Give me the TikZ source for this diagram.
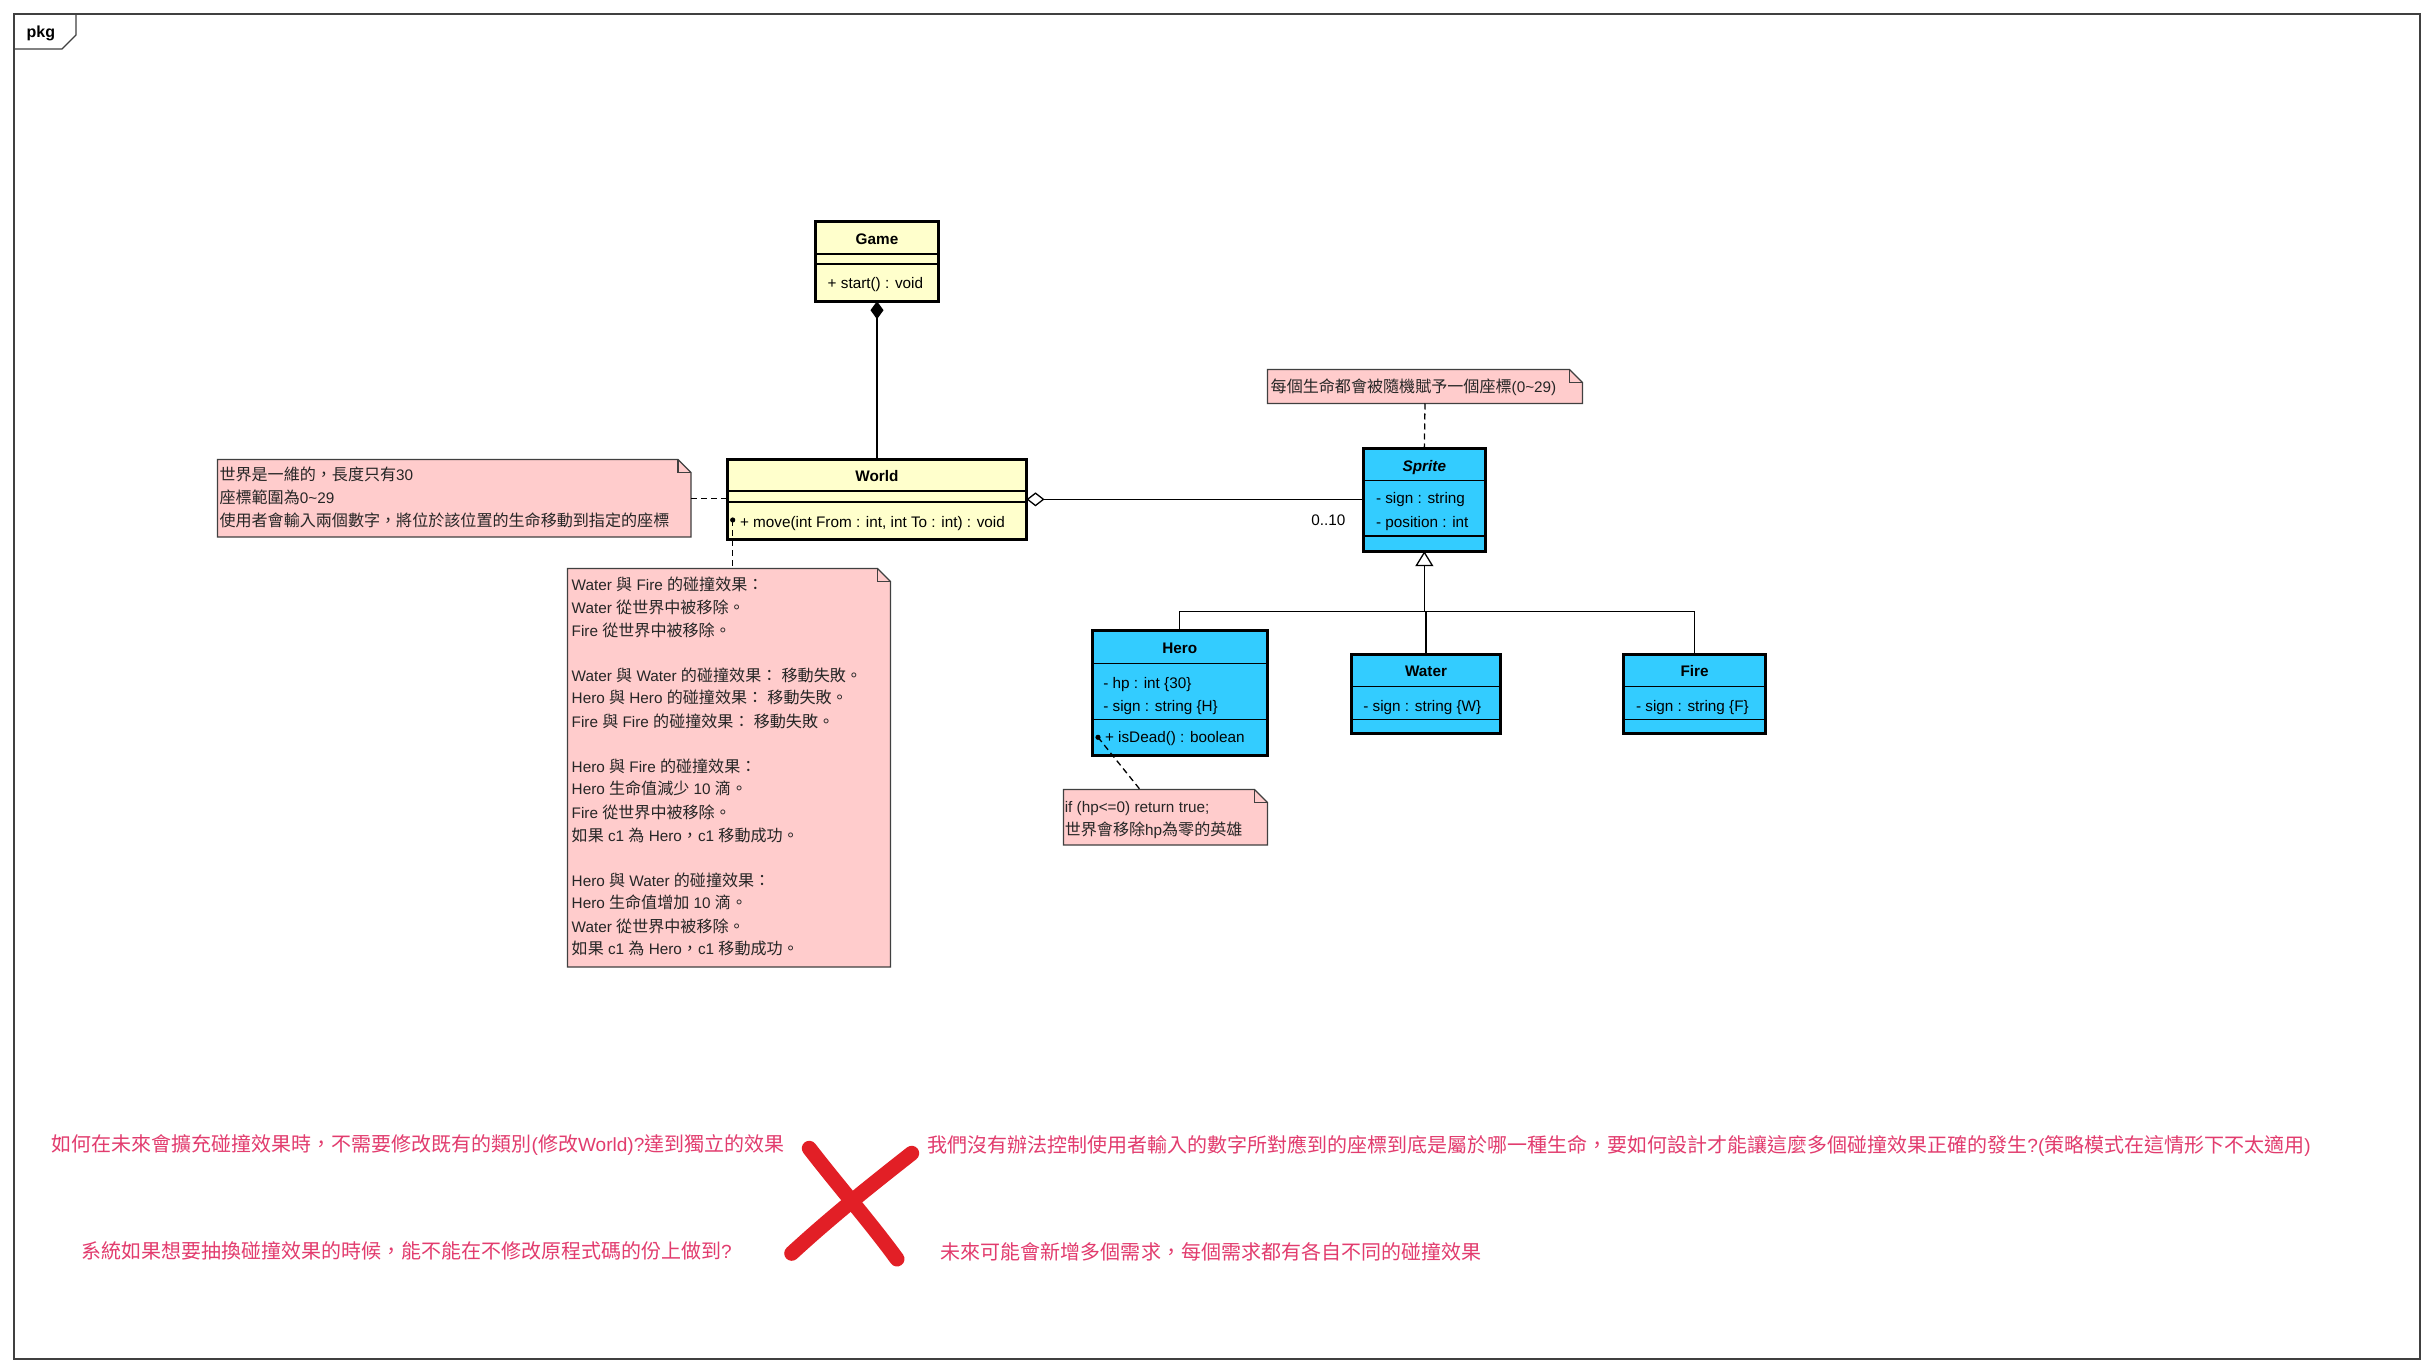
\documentclass[tikz,border=0pt]{standalone}
\usepackage{fontspec}
\setmainfont{Liberation Sans}
\newfontfamily\cjk{Noto Sans CJK TC}[Scale=1.05]
\newfontfamily\lat{Liberation Sans}
\usetikzlibrary{arrows.meta}
% automatic font switching between Latin and CJK characters
\XeTeXinterchartokenstate=1
\newXeTeXintercharclass\CJKcls
\newcount\cjkc
\cjkc="3000
\loop
  \XeTeXcharclass\cjkc=\CJKcls
  \ifnum\cjkc<"9FFF \advance\cjkc by 1
\repeat
\cjkc="FF00
\loop
  \XeTeXcharclass\cjkc=\CJKcls
  \ifnum\cjkc<"FFEF \advance\cjkc by 1
\repeat
\XeTeXinterchartoks 0 \CJKcls = {\cjk}
\XeTeXinterchartoks 4095 \CJKcls = {\cjk}
\XeTeXinterchartoks \CJKcls 0 = {\lat}
\XeTeXinterchartoks \CJKcls 4095 = {\lat}
\definecolor{yel}{HTML}{FFFFCC}
\definecolor{cya}{HTML}{33CCFF}
\definecolor{notepink}{HTML}{FFCCCC}
\definecolor{qred}{HTML}{E23C6E}
\definecolor{xred}{HTML}{E21F26}
\newcommand\drawnote[1]{%
  \draw[notebox] (#1.north west) -- ([xshift=-13pt]#1.north east) -- ([yshift=-13pt]#1.north east) -- (#1.south east) -- (#1.south west) -- cycle;
  \draw[notefold] ([xshift=-13pt]#1.north east) -- ([xshift=-13pt,yshift=-13pt]#1.north east) -- ([yshift=-13pt]#1.north east);
}
\newcommand\compart[2]{\draw[divl] (#1.west |- 0,#2) -- (#1.east |- 0,#2);}
\begin{document}
\begin{tikzpicture}[x=1pt,y=-1pt,
  every node/.style={inner sep=0pt,outer sep=0pt},
  txt/.style={font=\fontsize{15.3}{18}\selectfont,anchor=base west,text=black},
  ntxt/.style={font=\fontsize{15.3}{18}\selectfont,anchor=base west,text=black!85},
  nm/.style={font=\fontsize{15.3}{18}\selectfont\bfseries,anchor=base,text=black},
  clsbox/.style={draw=black,line width=3pt},
  divl/.style={line width=1.2pt},
  conn/.style={line width=1.3pt},
  ndash/.style={line width=1.3pt,dash pattern=on 6pt off 4pt},
  notebox/.style={draw=black!75,fill=notepink,line width=1.3pt},
  notefold/.style={draw=black!75,line width=1.3pt},
  bigq/.style={font=\fontsize{19.05}{24}\selectfont\cjk,text=qred,anchor=base},
  xstroke/.style={draw=xred,line width=15pt,line cap=round}]

\useasboundingbox (0,0) rectangle (2434,1372);
\fill[white] (0,0) rectangle (2434,1372);

% package frame
\draw[line width=1.3pt,draw=black!75] (14,14) rectangle (2420,1359);
\draw[line width=1.3pt,draw=black!75] (76,14) -- (76,35) -- (62,49) -- (14,49);
\node[font=\fontsize{16}{18}\selectfont\bfseries,anchor=base west] (pkg) at (26.7,37.7) {pkg};

% ---------- classes ----------
\node[clsbox,fill=yel,minimum width=123pt,minimum height=79.7pt] (game) at (877,261.35) {};
\compart{game}{254}\compart{game}{264}
\node[nm] (gamen) at (877,244.8) {Game};
\node[txt] (gameo) at (827.7,288.8) {+ start() : void};

\node[clsbox,fill=yel,minimum width=299pt,minimum height=79.7pt] (world) at (877,499.35) {};
\compart{world}{491}\compart{world}{502}
\node[nm] (worldn) at (877,481.5) {World};
\node[txt] (worldo) at (740,527.2) {+ move(int From : int, int To : int) : void};

\node[clsbox,fill=cya,minimum width=121.7pt,minimum height=102.4pt] (sprite) at (1424.35,500) {};
\compart{sprite}{480.7}\compart{sprite}{536}
\node[nm,font=\fontsize{15.3}{18}\selectfont\bfseries\itshape] (spriten) at (1424.35,471.5) {Sprite};
\node[txt] (spritea) at (1376,503.8) {- sign : string};
\node[txt] (spriteb) at (1376,527.2) {- position : int};

\node[clsbox,fill=cya,minimum width=175pt,minimum height=125pt] (hero) at (1179.7,693.3) {};
\compart{hero}{663.3}\compart{hero}{719.3}
\node[nm] (heron) at (1179.7,653.8) {Hero};
\node[txt] (heroa) at (1103.3,688.8) {- hp : int \{30\}};
\node[txt] (herob) at (1103.3,711.5) {- sign : string \{H\}};
\node[txt] (heroo) at (1105,742.8) {+ isDead() : boolean};

\node[clsbox,fill=cya,minimum width=149pt,minimum height=79.6pt] (water) at (1426,694) {};
\compart{water}{686.7}\compart{water}{719.3}
\node[nm] (watern) at (1426,676.5) {Water};
\node[txt] (watera) at (1363.3,711.5) {- sign : string \{W\}};

\node[clsbox,fill=cya,minimum width=142.3pt,minimum height=79.6pt] (fire) at (1694.65,694) {};
\compart{fire}{686.7}\compart{fire}{719.3}
\node[nm] (firen) at (1694.65,676.5) {Fire};
\node[txt] (firea) at (1636,711.5) {- sign : string \{F\}};

% ---------- notes ----------
\node[minimum width=473.5pt,minimum height=77.5pt] (nA) at (454.25,498.25) {};
\drawnote{nA}
\node[ntxt] (nA1) at (219.5,480.5) {世界是一維的，長度只有30};
\node[ntxt] (nA2) at (219.5,503.2) {座標範圍為0\textasciitilde29};
\node[ntxt] (nA3) at (219.5,526.5) {使用者會輸入兩個數字，將位於該位置的生命移動到指定的座標};

\node[minimum width=323pt,minimum height=398.5pt] (nB) at (729,767.75) {};
\drawnote{nB}
\foreach \yy/\t [count=\i] in {
  585/{Water 與 Fire 的碰撞效果：},
  607.7/{Water 從世界中被移除。},
  630.7/{Fire 從世界中被移除。},
  676/{Water 與 Water 的碰撞效果： 移動失敗。},
  698.3/{Hero 與 Hero 的碰撞效果： 移動失敗。},
  721.7/{Fire 與 Fire 的碰撞效果： 移動失敗。},
  766.7/{Hero 與 Fire 的碰撞效果：},
  789.3/{Hero 生命值減少 10 滴。},
  812.7/{Fire 從世界中被移除。},
  836/{如果 c1 為 Hero，c1 移動成功。},
  880.7/{Hero 與 Water 的碰撞效果：},
  903.3/{Hero 生命值增加 10 滴。},
  926.7/{Water 從世界中被移除。},
  949.3/{如果 c1 為 Hero，c1 移動成功。}}
  \node[ntxt] (nB\i) at (571.7,\yy+5.5) {\t};

\node[minimum width=315pt,minimum height=34pt] (nC) at (1425,386.5) {};
\drawnote{nC}
\node[ntxt] (nC1) at (1270.7,392.2) {每個生命都會被隨機賦予一個座標(0\textasciitilde29)};

\node[minimum width=204pt,minimum height=55.5pt] (nD) at (1165.5,817.25) {};
\drawnote{nD}
\node[ntxt] (nD1) at (1064.8,812.8) {if (hp<=0) return true;};
\node[ntxt] (nD2) at (1064.8,835.5) {世界會移除hp為零的英雄};

% ---------- connectors ----------
\draw[conn,{Diamond[length=18pt,width=13pt]}-] (game.south) -- (world.north);
\draw[conn,{Diamond[open,length=18pt,width=14pt]}-] (world.east) -- (world.east -| sprite.west);
\node[font=\fontsize{15.3}{18}\selectfont,anchor=base] (mult) at (1328.3,525.5) {0..10};

\coordinate (gj) at (1424.35,611.3);
\draw[conn,-{Triangle[open,length=15pt,width=18pt]}] (gj) -- (sprite.south);
\draw[conn] (hero.north) |- (gj) -| (fire.north);
\draw[conn] (water.north) -- (water.north |- gj);

\draw[ndash] (nA.east) -- (nA.east -| world.west);
\coordinate (wdot) at (732.7,520);
\fill (wdot) circle (2.6pt);
\draw[ndash] (wdot) -- (wdot |- nB.north);
\draw[ndash] (nC.south) -- (sprite.north);
\coordinate (hdot) at (1098,737.3);
\fill (hdot) circle (2.6pt);
\coordinate (nDa) at (1140,789.5);
\draw[ndash] (hdot) -- (nDa);

% ---------- questions ----------
\node[bigq] (q1) at (418,1151.3) {如何在未來會擴充碰撞效果時，不需要修改既有的類別(修改World)?達到獨立的效果};
\node[bigq] (q2) at (406.5,1258.5) {系統如果想要抽換碰撞效果的時候，能不能在不修改原程式碼的份上做到?};
\node[bigq] (q3) at (1619,1152.5) {我們沒有辦法控制使用者輸入的數字所對應到的座標到底是屬於哪一種生命，要如何設計才能讓這麼多個碰撞效果正確的發生?(策略模式在這情形下不太適用)};
\node[bigq] (q4) at (1211,1259.5) {未來可能會新增多個需求，每個需求都有各自不同的碰撞效果};

% red cross
\draw[xstroke] (809.3,1148.3) .. controls (840,1188) and (870,1222) .. (897,1259);
\draw[xstroke] (911.7,1153.3) .. controls (870,1186) and (830,1218) .. (791.7,1253.3);
\end{tikzpicture}
\end{document}
